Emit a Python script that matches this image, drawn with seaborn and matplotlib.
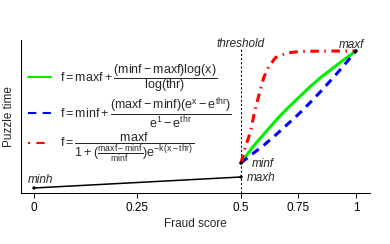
import numpy as np
import pandas as pd
import seaborn as sns
import matplotlib.pyplot as plt
from matplotlib.lines import Line2D

# nilai
thr = 0.5
minh, maxh, minf, maxf = 1.0, 2.0, 3.27, 13.45

human_x = [0.0, 0.5]
human_y = [minh, maxh]

fraud_x = [0.5, 0.55, 0.6, 0.65, 0.7, 0.75, 0.8, 0.85, 0.9, 0.95, 1.0]
log_y = [3.27, 4.7, 5.9, 7.1, 8.2, 9.2, 10.2, 11.1, 11.9, 12.7, 13.45]
exp_y = [3.27, 4.1, 4.9, 5.8, 6.75, 7.7, 8.75, 9.85, 11.0, 12.2, 13.45]

logis_x = [0.5, 0.52, 0.54, 0.56, 0.58, 0.6, 0.62, 0.65, 0.7, 0.75, 0.8, 0.9, 1.0]
logis_y = [3.27, 4.8, 6.0, 8.0, 9.6, 11.1, 12.0, 12.85, 13.27, 13.4, 13.43, 13.45, 13.45]

tick_vals = [0, 0.25, 0.5, 0.75, 1]
tick_labels = ['0', '0.25', '0.5', '0.75', '1']

labels = [
    r'$\mathrm{f = maxf + \dfrac{(minf - maxf)log(x)}{log(thr)}}$',
    r'$\mathrm{f = minf + \dfrac{(maxf - minf)(e^{x} - e^{thr})}{e^{1} - e^{thr}}}$',
    r'$\mathrm{f = \dfrac{maxf}{1 + (\frac{maxf - minf}{minf})e^{-k(x - thr)}}}$',
]

sns.set_style('ticks')
plt.rcParams['font.family'] = ['Liberation Sans', 'DejaVu Sans']
plt.rcParams['mathtext.fontset'] = 'custom'
plt.rcParams['mathtext.rm'] = 'Liberation Sans'
plt.rcParams['mathtext.it'] = 'Liberation Sans:italic'
plt.rcParams['mathtext.bf'] = 'Liberation Sans:bold'
plt.rcParams['mathtext.sf'] = 'Liberation Sans'

fig, ax = plt.subplots(figsize=(3.9, 2.44), dpi=100)
fig.subplots_adjust(left=0.0538, right=0.9487, bottom=0.209, top=0.836)


# sumbu x: setengah kanan dipadatkan
def fwd(x):
    x = np.asarray(x, dtype=float)
    return np.where(x <= 0.5, x, 0.5 + (x - 0.5) * 0.5556)


def inv(t):
    t = np.asarray(t, dtype=float)
    return np.where(t <= 0.5, t, 0.5 + (t - 0.5) / 0.5556)


ax.set_xscale('function', functions=(fwd, inv))

df_log = pd.DataFrame({'x': fraud_x, 'y': log_y})
df_exp = pd.DataFrame({'x': fraud_x, 'y': exp_y})
df_logis = pd.DataFrame({'x': logis_x, 'y': logis_y})
df_h = pd.DataFrame({'x': human_x, 'y': human_y})

ax.axvline(thr, ymin=0, ymax=0.948, color='black', lw=0.75, ls=(0, (2, 2)))

sns.lineplot(data=df_h, x='x', y='y', ax=ax, color='black', lw=1.1)
sns.lineplot(data=df_log, x='x', y='y', ax=ax, color='#00ee00', lw=2.2)
sns.lineplot(data=df_exp, x='x', y='y', ax=ax, color='#0000ff', lw=2.2,
             ls=(0, (2.7, 2.0)))
sns.lineplot(data=df_logis, x='x', y='y', ax=ax, color='#ff0000', lw=2.2,
             ls=(0, (2.8, 1.8, 0.5, 1.8)))

pts = pd.DataFrame({'x': [0, 0.5, 0.5, 1], 'y': [minh, maxh, minf, maxf]})
sns.scatterplot(data=pts, x='x', y='y', ax=ax, color='black', s=6,
                edgecolor='none', zorder=5)

fs = 8.5
ax.annotate('minh', (0, minh), xytext=(5, 6), textcoords='offset points',
            ha='center', va='center', style='italic', fontsize=fs)
ax.annotate('maxh', (0.5, maxh), xytext=(4.5, -0.5), textcoords='offset points',
            ha='left', va='center', style='italic', fontsize=fs)
ax.annotate('minf', (0.5, minf), xytext=(8, -1), textcoords='offset points',
            ha='left', va='center', style='italic', fontsize=fs)
ax.annotate('maxf', (1, maxf), xytext=(-3.5, 4), textcoords='offset points',
            ha='center', va='center', style='italic', fontsize=fs)
ax.text(thr, 14.09, 'threshold', ha='center', va='center', style='italic',
        fontsize=fs)

handles = [
    Line2D([], [], color='#00ee00', lw=1.5),
    Line2D([], [], color='#0000ff', lw=1.5, ls=(0, (4, 3))),
    Line2D([], [], color='#ff0000', lw=1.5, ls=(0, (1, 3, 4, 3))),
]
ax.legend(handles, labels, loc='center left', bbox_to_anchor=(0.02, 0.522),
          frameon=False, fontsize=9, handlelength=1.85, handletextpad=0.75,
          borderpad=0, borderaxespad=0, labelspacing=0.08)

ax.set_xlim(-0.0314, 1.061)
ax.set_ylim(0.545, 14.45)
ax.set_xticks(tick_vals)
ax.set_xticklabels(tick_labels)
ax.set_yticks([])
ax.set_xlabel('Fraud score', fontsize=fs, labelpad=3)
ax.set_ylabel('Puzzle time', fontsize=fs, labelpad=4)
ax.tick_params(axis='x', length=3.6, width=0.75, pad=3, labelsize=fs,
               colors='black')
sns.despine(ax=ax)
for s in ['left', 'bottom']:
    ax.spines[s].set_linewidth(0.75)
    ax.spines[s].set_color('black')

plt.savefig('out.png', dpi=100)
plt.close()
